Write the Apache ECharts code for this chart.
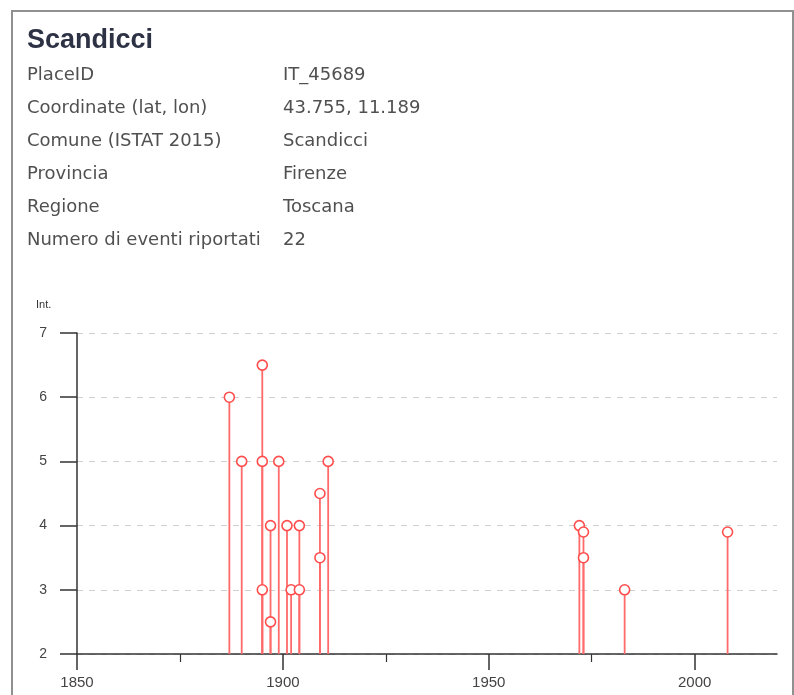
<!DOCTYPE html>
<html lang="it">

<head>
    <meta charset="UTF-8">
    <title>Scandicci</title>
    <script src="https://cdn.jsdelivr.net/npm/echarts@6/dist/echarts.min.js"></script>
    <style>
        body { margin: 0; padding: 0; background: #fff; }
        #box {
            position: absolute; left: 11px; top: 10px; width: 779px; height: 720px;
            border: 2px solid #909090; border-bottom: none;
        }
        #title {
            position: absolute; left: 27px; top: 24px; margin: 0;
            font: bold 27px "Liberation Sans", Arial, sans-serif; color: #2d3245;
        }
        .row {
            position: absolute; left: 27px;
            font: 18px "DejaVu Sans", Verdana, sans-serif; color: #505050;
        }
        .row span { position: absolute; left: 256px; white-space: nowrap; }
        #main_chart { position: absolute; left: 0; top: 0; width: 794px; height: 695px; }
    </style>
</head>

<body>
    <div id="box"></div>
    <div id="main_chart"></div>
    <h1 id="title">Scandicci</h1>
    <div class="row" style="top:63px">PlaceID<span>IT_45689</span></div>
    <div class="row" style="top:96px">Coordinate (lat, lon)<span>43.755, 11.189</span></div>
    <div class="row" style="top:129px">Comune (ISTAT 2015)<span>Scandicci</span></div>
    <div class="row" style="top:162px">Provincia<span>Firenze</span></div>
    <div class="row" style="top:195px">Regione<span>Toscana</span></div>
    <div class="row" style="top:228px">Numero di eventi riportati<span>22</span></div>

    <script>
        // anni degli eventi e intensità al sito
        var years = [1887, 1890, 1895, 1895, 1895, 1897, 1897, 1899, 1901, 1902, 1904, 1904,
            1909, 1909, 1911, 1972, 1973, 1973, 1983, 2008];
        var intensity = [6, 5, 6.5, 5, 3, 4, 2.5, 5, 4, 3, 4, 3,
            4.5, 3.5, 5, 4, 3.9, 3.5, 3, 3.9];
        var yearTicks = [1850, 1900, 1950, 2000];
        var minorYearTicks = [1875, 1925, 1975];

        var stemColor = '#ff6a6a';
        var markColor = '#ff4d4d';
        var axisColor = '#333';

        var points = [];
        for (var i = 0; i < years.length; i++) {
            points.push([years[i], intensity[i]]);
        }

        // stelo verticale dal fondo asse al valore
        function renderStem(params, api) {
            var top = api.coord([api.value(0), api.value(1)]);
            var base = api.coord([api.value(0), 2]);
            return {
                type: 'line',
                shape: { x1: top[0], y1: top[1], x2: base[0], y2: base[1] },
                style: { stroke: stemColor, lineWidth: 1.8 }
            };
        }

        var myChart = echarts.init(document.getElementById('main_chart'));
        var option = {
            animation: false,
            grid: { left: 77, top: 333, width: 700, height: 321 },
            graphic: [{
                type: 'text', left: 36, top: 299,
                style: { text: 'Int.', font: '11px "Liberation Sans", Arial, sans-serif', fill: '#333' }
            }],
            xAxis: [{
                type: 'value', min: 1850, max: 2020, interval: 50,
                axisLine: { lineStyle: { color: axisColor, width: 1.5 } },
                axisTick: { customValues: yearTicks, length: 16, lineStyle: { color: axisColor, width: 1.5 } },
                axisLabel: {
                    customValues: yearTicks, margin: 21, color: '#444',
                    fontFamily: 'Liberation Sans', fontSize: 15,
                    formatter: function (value) { return String(value); }
                },
                splitLine: { show: false }
            }, {
                type: 'value', min: 1850, max: 2020, position: 'bottom',
                axisLine: { show: false },
                axisTick: { customValues: minorYearTicks, length: 8, lineStyle: { color: axisColor, width: 1.2 } },
                axisLabel: { show: false },
                splitLine: { show: false }
            }],
            yAxis: {
                type: 'value', min: 2, max: 7, interval: 1,
                axisLine: { show: true, lineStyle: { color: axisColor, width: 1.5 } },
                axisTick: { show: true, length: 17, lineStyle: { color: axisColor, width: 1.5 } },
                axisLabel: { margin: 30, color: '#444', fontFamily: 'Liberation Sans', fontSize: 14 },
                splitLine: { lineStyle: { color: '#d0d0d0', type: [6, 6] } }
            },
            series: [{
                type: 'custom',
                renderItem: renderStem,
                data: points,
                z: 2
            }, {
                type: 'scatter',
                data: points,
                symbol: 'circle',
                symbolSize: 10,
                itemStyle: { color: '#fff', borderColor: markColor, borderWidth: 1.6, opacity: 1 },
                z: 3
            }]
        };
        myChart.setOption(option);
    </script>
</body>

</html>
